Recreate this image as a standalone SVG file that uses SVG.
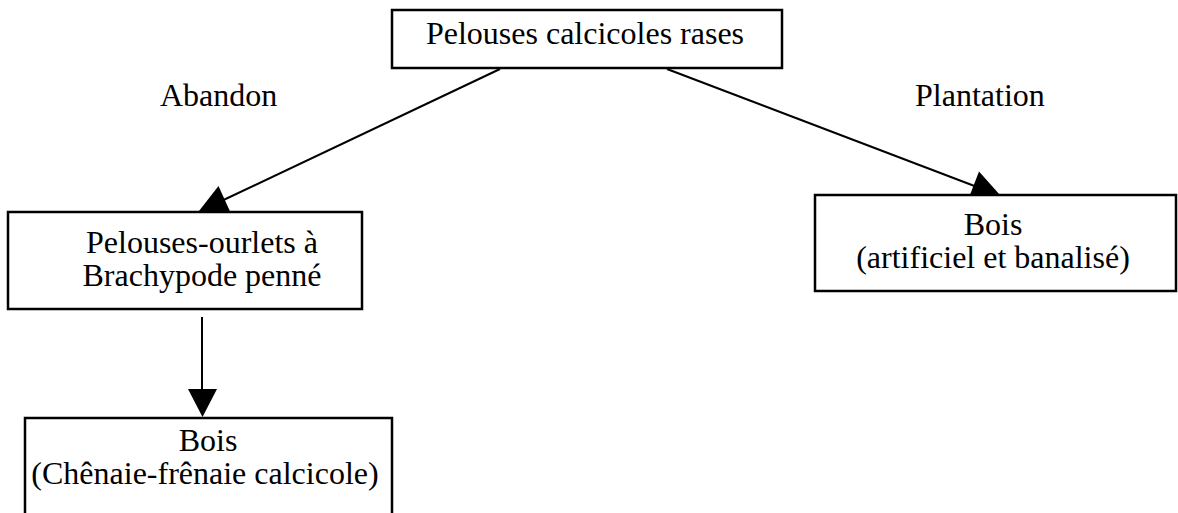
<svg xmlns="http://www.w3.org/2000/svg" width="1178" height="513" viewBox="0 0 1178 513">
<style>
.box{fill:#fff;stroke:#000;stroke-width:2.5}
.t{font-family:"Liberation Serif","Times New Roman",serif;font-size:32px;fill:#000;text-anchor:middle}
.l{font-family:"Liberation Serif","Times New Roman",serif;font-size:32px;fill:#000}
.c{stroke:#000;stroke-width:2;fill:none}
.h{fill:#000;stroke:none}
</style>
<rect width="1178" height="513" fill="#fff"/>
<g id="connectors">
<line class="c" x1="500" y1="69" x2="215" y2="204"/>
<polygon class="h" points="199,211 218.5,186 230.5,212.5"/>
<line class="c" x1="667" y1="69" x2="985" y2="190"/>
<polygon class="h" points="1000,195 979,171.5 968.6,198.5"/>
<line class="c" x1="202" y1="317" x2="202" y2="392"/>
<polygon class="h" points="188,389 217,389 202.5,417"/>
</g>
<g id="n-top">
<rect class="box" x="392" y="10" width="390" height="58"/>
<text class="t" x="585" y="44">Pelouses calcicoles rases</text>
</g>
<g id="lbl-abandon"><text class="l" x="160" y="106">Abandon</text></g>
<g id="lbl-plantation"><text class="l" x="915" y="106">Plantation</text></g>
<g id="n-left">
<rect class="box" x="8" y="212" width="354" height="97"/>
<text class="t" x="202" y="253">Pelouses-ourlets à</text>
<text class="t" x="202" y="286">Brachypode penné</text>
</g>
<g id="n-right">
<rect class="box" x="815" y="195" width="361" height="96"/>
<text class="t" x="993" y="235">Bois</text>
<text class="t" x="993" y="268">(artificiel et banalisé)</text>
</g>
<g id="n-bottom">
<path class="box" d="M25,514 V418 H392 V514"/>
<text class="t" x="208" y="451">Bois</text>
<text class="t" x="205" y="484">(Chênaie-frênaie calcicole)</text>
</g>
</svg>
